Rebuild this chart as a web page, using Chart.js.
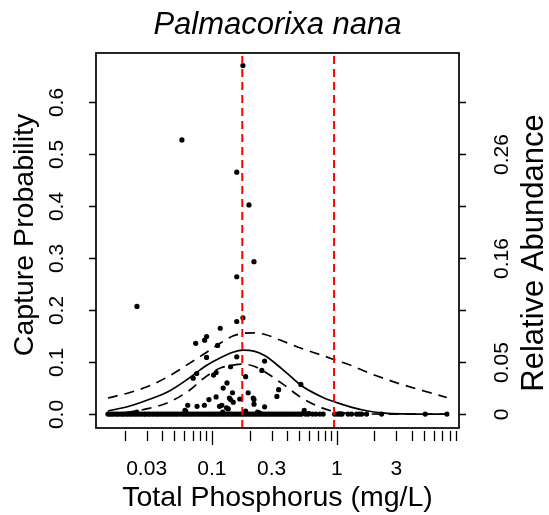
<!DOCTYPE html>
<html>
<head>
<meta charset="utf-8">
<script src="https://cdn.jsdelivr.net/npm/chart.js@4.4.1/dist/chart.umd.min.js"></script>
<style>
  html, body { margin: 0; padding: 0; background: #fff; }
  #c { display: block; }
</style>
</head>
<body>
<canvas id="c" width="549" height="515"></canvas>
<script>
// capture probability per site (x = total phosphorus mg/L)
const ptX = [0.177, 0.0575, 0.158, 0.198, 0.217, 0.158, 0.0251, 0.158, 0.177, 0.1165,
  0.0906, 0.0874, 0.0741, 0.111, 0.0906, 0.158, 0.264, 0.141, 0.251, 0.0755,
  0.108, 0.103, 0.0708, 0.186, 0.132, 0.123, 0.146, 0.342, 0.331, 0.515,
  0.108, 0.0946, 0.138, 0.141, 0.148, 0.167, 0.195, 0.214, 0.217, 0.217,
  0.064, 0.076, 0.087, 0.115, 0.12, 0.131, 0.135, 0.264, 0.0617, 0.025,
  0.122, 0.186, 0.242, 0.548, 0.60, 0.232, 0.0608];
const ptY = [0.670, 0.527, 0.465, 0.402, 0.293, 0.264, 0.207, 0.178, 0.185, 0.165,
  0.149, 0.142, 0.136, 0.132, 0.109, 0.110, 0.102, 0.091, 0.084, 0.078,
  0.080, 0.075, 0.069, 0.072, 0.060, 0.050, 0.041, 0.047, 0.034, 0.057,
  0.033, 0.028, 0.031, 0.028, 0.023, 0.029, 0.041, 0.031, 0.028, 0.019,
  0.017, 0.015, 0.017, 0.015, 0.017, 0.012, 0.010, 0.014, 0.006, 0.004,
  0.004, 0.006, 0.002, 0.007, 0.001, 0.004, 0.007];

// sites where the species was not caught (probability 0)
const zeroX = [0.0147, 0.0152, 0.0158, 0.0163, 0.0171, 0.0176, 0.0184, 0.0192, 0.0198, 0.0207,
  0.0214, 0.0223, 0.0231, 0.0242, 0.0251, 0.0262, 0.0273, 0.0286, 0.0294, 0.0308,
  0.0319, 0.0333, 0.0345, 0.0361, 0.0372, 0.0389, 0.0403, 0.0421, 0.0437, 0.0455,
  0.0472, 0.0493, 0.0512, 0.0531, 0.0556, 0.0578, 0.0602, 0.0624, 0.0651, 0.0677,
  0.0703, 0.0734, 0.0762, 0.0795, 0.0826, 0.0861, 0.0893, 0.0932, 0.0968, 0.101,
  0.105, 0.109, 0.113, 0.118, 0.122, 0.127, 0.132, 0.138, 0.143, 0.149,
  0.155, 0.161, 0.168, 0.174, 0.181, 0.188, 0.196, 0.203, 0.212, 0.22,
  0.229, 0.238, 0.248, 0.257, 0.268, 0.279, 0.29, 0.301, 0.313, 0.326,
  0.339, 0.352, 0.366, 0.381, 0.396, 0.412, 0.429, 0.446, 0.464, 0.483,
  0.502, 0.521, 0.562, 0.589, 0.639, 0.679, 0.731, 0.777, 0.96, 1.01,
  1.06, 1.1, 1.23, 1.31, 1.44, 1.51, 1.58, 1.73, 2.28, 5.1, 7.6];

// fitted response curve + bounds
const curveX = [0.0147, 0.0217, 0.0313, 0.0453, 0.0655, 0.0895, 0.118, 0.147, 0.177, 0.217,
  0.266, 0.363, 0.525, 0.759, 1.0, 1.32, 1.77, 2.42, 3.31, 5.06, 7.59];
const fitY = [0.006, 0.015, 0.028, 0.044, 0.069, 0.093, 0.109, 0.119, 0.123, 0.121,
  0.112, 0.087, 0.054, 0.033, 0.022, 0.013, 0.006, 0.002, 0.0005, 0, 0];
const upperY = [0.031, 0.041, 0.054, 0.073, 0.097, 0.118, 0.137, 0.150, 0.155, 0.156,
  0.153, 0.141, 0.126, 0.113, 0.103, 0.093, 0.080, 0.068, 0.057, 0.044, 0.032];
const lowerY = [0.001, 0.004, 0.011, 0.023, 0.045, 0.072, 0.089, 0.094, 0.096, 0.092,
  0.081, 0.059, 0.031, 0.012, 0.004, 0.001, 0.0003, 0, 0, 0, 0];

// threshold lines
const threshX = [0.175, 0.95];

// axes
const yTicks = [0, 0.1, 0.2, 0.3, 0.4, 0.5, 0.6];
const yTickLabels = ['0.0', '0.1', '0.2', '0.3', '0.4', '0.5', '0.6'];
const rightTickLabels = ['0', '0.05', '', '0.16', '', '0.26', ''];
const xTicks = [0.02, 0.03, 0.04, 0.05, 0.06, 0.07, 0.08, 0.09, 0.1,
  0.2, 0.3, 0.4, 0.5, 0.6, 0.7, 0.8, 0.9, 1, 2, 3, 4, 5, 6, 7, 8, 9];
const xMajor = [0.1, 1];
const xTickLabels = [0.03, 0.1, 0.3, 1, 3];

const X_MIN = 0.0118, X_MAX = 9.5;
const Y_MIN = -0.0267, Y_MAX = 0.694;
const FONT = '"Liberation Sans", Arial, Helvetica, sans-serif';

const points = ptX.map((x, i) => ({ x, y: ptY[i] }))
  .concat(zeroX.map(x => ({ x, y: 0 })));
const toXY = ys => curveX.map((x, i) => ({ x, y: ys[i] }));

// R-style box, ticks and labels drawn with the chart's own scales
const rAxes = {
  id: 'rAxes',
  afterDraw(chart) {
    const { ctx, chartArea: a, scales } = chart;
    const sx = scales.x, sy = scales.y;
    ctx.save();
    ctx.strokeStyle = '#000';
    ctx.fillStyle = '#000';
    ctx.lineWidth = 1.7;
    ctx.strokeRect(a.left, a.top, a.right - a.left, a.bottom - a.top);

    ctx.lineWidth = 1.3;
    ctx.font = '21px ' + FONT;
    yTicks.forEach((v, i) => {
      const py = Math.round(sy.getPixelForValue(v)) + 0.5;
      ctx.beginPath();
      ctx.moveTo(a.left, py); ctx.lineTo(a.left - 7, py);
      ctx.moveTo(a.right, py); ctx.lineTo(a.right + 7, py);
      ctx.stroke();
      ctx.save();
      ctx.translate(63, py);
      ctx.rotate(-Math.PI / 2);
      ctx.textAlign = 'center';
      ctx.textBaseline = 'alphabetic';
      ctx.fillText(yTickLabels[i], 0, 0);
      ctx.restore();
      if (rightTickLabels[i]) {
        ctx.save();
        ctx.translate(508, py);
        ctx.rotate(-Math.PI / 2);
        ctx.textAlign = 'center';
        ctx.fillText(rightTickLabels[i], 0, 0);
        ctx.restore();
      }
    });

    xTicks.forEach(v => {
      const px = Math.round(sx.getPixelForValue(v)) + 0.5;
      const len = xMajor.includes(v) ? 14 : 10;
      ctx.beginPath();
      ctx.moveTo(px, a.bottom + 3); ctx.lineTo(px, a.bottom + 3 + len);
      ctx.stroke();
    });
    ctx.textAlign = 'center';
    ctx.textBaseline = 'alphabetic';
    xTickLabels.forEach(v => {
      ctx.fillText(String(v), sx.getPixelForValue(v), 475);
    });

    ctx.font = '28.5px ' + FONT;
    ctx.fillText('Total Phosphorus (mg/L)', (a.left + a.right) / 2, 506);

    ctx.save();
    ctx.translate(33, 235);
    ctx.rotate(-Math.PI / 2);
    ctx.fillText('Capture Probability', 0, 0);
    ctx.restore();

    ctx.font = '31px ' + FONT;
    ctx.save();
    ctx.translate(543, 253);
    ctx.rotate(-Math.PI / 2);
    ctx.fillText('Relative Abundance', 0, 0);
    ctx.restore();

    ctx.font = 'italic 31px ' + FONT;
    ctx.fillText('Palmacorixa nana', (a.left + a.right) / 2, 34);
    ctx.restore();
  }
};

const vline = x => [{ x, y: Y_MIN }, { x, y: Y_MAX }];

new Chart(document.getElementById('c'), {
  type: 'scatter',
  data: {
    datasets: [
      ...threshX.map(x => ({
        type: 'line', data: vline(x), borderColor: '#ff0000', borderWidth: 2,
        borderDash: [8, 5], pointRadius: 0
      })),
      {
        type: 'line', label: 'fit', data: toXY(fitY), borderColor: '#000',
        borderWidth: 1.7, pointRadius: 0, cubicInterpolationMode: 'monotone'
      },
      {
        type: 'line', label: 'upper', data: toXY(upperY), borderColor: '#000',
        borderWidth: 1.7, borderDash: [10, 7], pointRadius: 0, cubicInterpolationMode: 'monotone'
      },
      {
        type: 'line', label: 'lower', data: toXY(lowerY), borderColor: '#000',
        borderWidth: 1.7, borderDash: [10, 7], pointRadius: 0, cubicInterpolationMode: 'monotone'
      },
      {
        label: 'sites', data: points, backgroundColor: '#000', borderWidth: 0,
        pointRadius: 2.6
      }
    ]
  },
  options: {
    responsive: false,
    animation: false,
    layout: { padding: { left: 96, right: 90, top: 53, bottom: 87 } },
    plugins: { legend: { display: false }, tooltip: { enabled: false } },
    scales: {
      x: { type: 'logarithmic', min: X_MIN, max: X_MAX, display: false },
      y: { type: 'linear', min: Y_MIN, max: Y_MAX, display: false }
    }
  },
  plugins: [rAxes]
});
</script>
</body>
</html>
